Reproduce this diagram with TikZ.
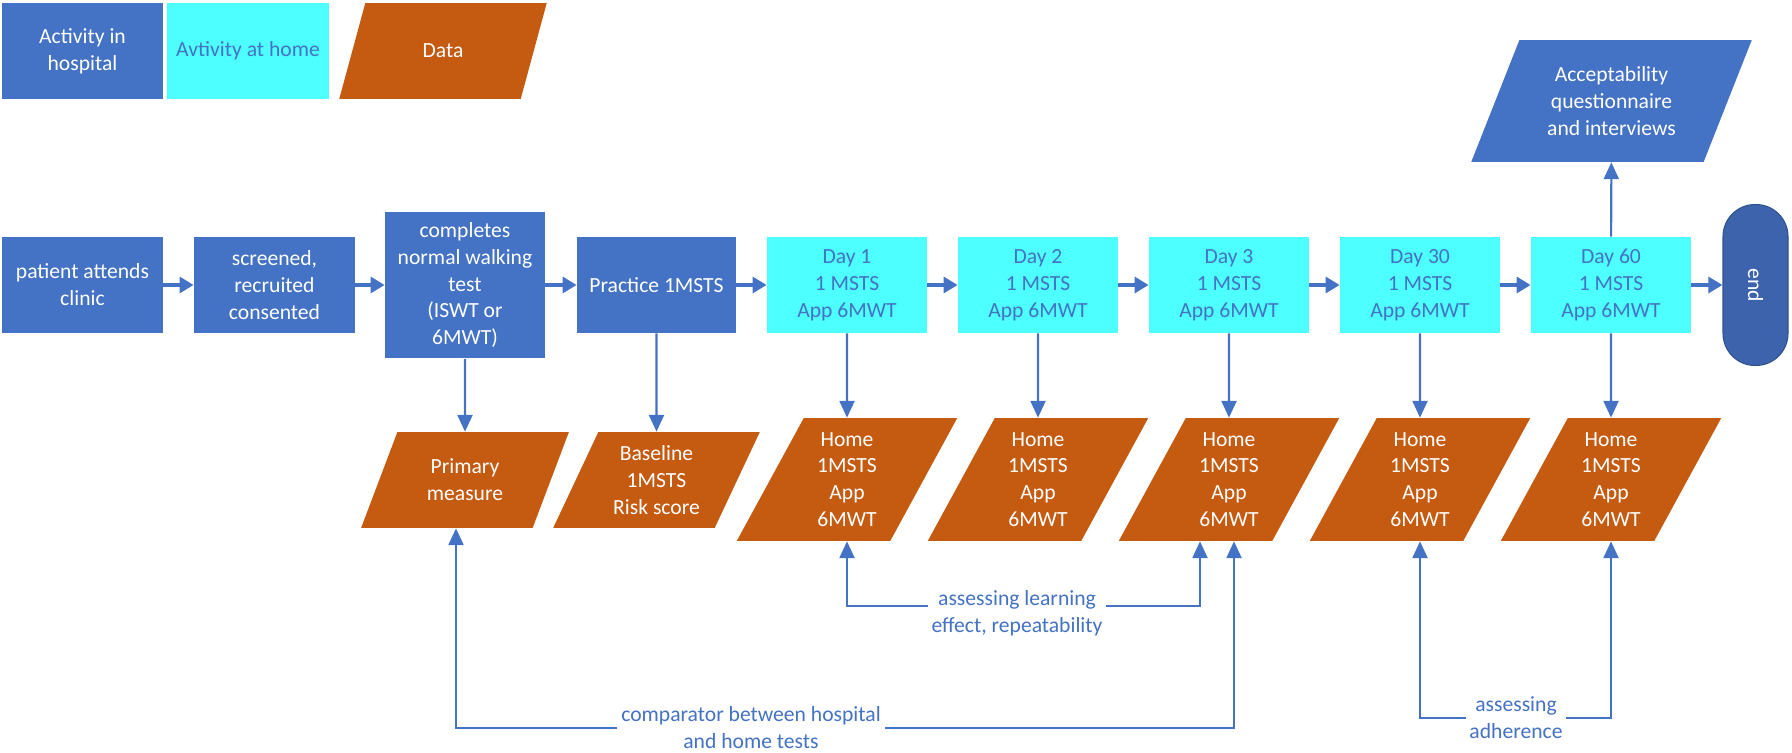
\documentclass[tikz,border=0pt]{standalone}
\usepackage{fontspec}
\setmainfont{Carlito}
\usetikzlibrary{arrows.meta,shapes.geometric}
\definecolor{hblue}{HTML}{4472C4}
\definecolor{hcyan}{HTML}{4DFFFF}
\definecolor{horange}{HTML}{C55A11}
\definecolor{hend}{HTML}{3E63AD}
\definecolor{hendb}{HTML}{2F528F}
\begin{document}
\begin{tikzpicture}[x=0.02cm,y=-0.02cm,
  every node/.style={font=\fontsize{12.3}{15.3}\selectfont, align=center, inner sep=0pt},
  hosp/.style={fill=hblue, text=white, minimum height=1.92cm},
  homebox/.style={fill=hcyan, text=hblue, minimum width=3.2cm, minimum height=1.92cm},
  datab/.style={trapezium, trapezium left angle=64, trapezium right angle=116, trapezium stretches=true, fill=horange, text=white},
  flow/.style={draw=hblue, line width=2pt, -{Triangle[width=9pt,length=8pt]}},
  down/.style={draw=hblue, line width=1.2pt, -{Triangle[width=8.5pt,length=9.5pt]}},
  lbl/.style={fill=white, text=hblue, inner xsep=2pt, inner ysep=1pt}
]
\useasboundingbox (0,0) rectangle (1792,753);
% legend
\node[hosp, minimum width=3.22cm] (l1) at (82.5,51) {Activity in\\hospital};
\node[homebox, minimum width=3.24cm] (l2) at (248,51) {Avtivity at home};
\node[datab, minimum width=4.16cm, minimum height=1.92cm] (l3) at (443,51) {Data};
% main row
\node[hosp, minimum width=3.22cm] (b1) at (82.5,285) {patient attends\\clinic};
\node[hosp, minimum width=3.22cm] (b2) at (274.5,285) {screened,\\recruited\\consented};
\node[hosp, minimum width=3.2cm, minimum height=2.94cm] (b3) at (465,285) {completes\\normal walking\\test\\(ISWT or\\6MWT)};
\node[hosp, minimum width=3.18cm] (b4) at (656.5,285) {Practice 1MSTS};
\node[homebox] (d1) at (847,285) {Day 1\\1 MSTS\\App 6MWT};
\node[homebox] (d2) at (1038,285) {Day 2\\1 MSTS\\App 6MWT};
\node[homebox] (d3) at (1229,285) {Day 3\\1 MSTS\\App 6MWT};
\node[homebox] (d4) at (1420,285) {Day 30\\1 MSTS\\App 6MWT};
\node[homebox] (d5) at (1611,285) {Day 60\\1 MSTS\\App 6MWT};
\node[fill=hend, draw=hendb, line width=0.6pt, rounded corners=0.64cm, minimum width=1.3cm, minimum height=3.22cm, text=white] (en) at (1755.5,285) {\rotatebox{-90}{end}};
\node[datab, fill=hblue, minimum width=5.62cm, minimum height=2.44cm] (aq) at (1611.5,101) {Acceptability\\questionnaire\\and interviews};
% data row
\node[datab, minimum width=4.16cm, minimum height=1.92cm] (pm) at (465,480) {Primary\\measure};
\node[datab, minimum width=4.14cm, minimum height=1.92cm] (bl) at (656.5,480) {Baseline\\1MSTS\\Risk score};
\node[datab, minimum width=4.44cm, minimum height=2.46cm] (h1) at (847,479.5) {Home\\1MSTS\\App\\6MWT};
\node[datab, minimum width=4.44cm, minimum height=2.46cm] (h2) at (1038,479.5) {Home\\1MSTS\\App\\6MWT};
\node[datab, minimum width=4.44cm, minimum height=2.46cm] (h3) at (1229,479.5) {Home\\1MSTS\\App\\6MWT};
\node[datab, minimum width=4.44cm, minimum height=2.46cm] (h4) at (1420,479.5) {Home\\1MSTS\\App\\6MWT};
\node[datab, minimum width=4.44cm, minimum height=2.46cm] (h5) at (1611,479.5) {Home\\1MSTS\\App\\6MWT};
% flow arrows
\draw[flow] (b1) -- (b2);
\draw[flow] (b2) -- (b3);
\draw[flow] (b3) -- (b4);
\draw[flow] (b4) -- (d1);
\draw[flow] (d1) -- (d2);
\draw[flow] (d2) -- (d3);
\draw[flow] (d3) -- (d4);
\draw[flow] (d4) -- (d5);
\draw[flow] (d5) -- (en);
% vertical arrows
\draw[down] (b3) -- (pm);
\draw[down] (b4) -- (bl);
\draw[down] (d1) -- (h1);
\draw[down] (d2) -- (h2);
\draw[down] (d3) -- (h3);
\draw[down] (d4) -- (h4);
\draw[down] (d5) -- (h5);
\draw[down] (d5) -- (aq);
% bottom comparisons
\node[lbl] (lrn) at (1017,613) {assessing learning\\effect, repeatability};
\draw[down] (lrn.west |- 0,606) -| (h1.south);
\draw[down] (lrn.east |- 0,606) -| (h3.south -| 1200,0);
\node[lbl] (cmp) at (751,728) {comparator between hospital\\and home tests};
\draw[down] (cmp.west) -| (pm.south -| 456,0);
\draw[down] (cmp.east) -| (h3.south -| 1234,0);
\node[lbl] (adh) at (1516,718) {assessing\\adherence};
\draw[down] (adh.west) -| (h4.south);
\draw[down] (adh.east) -| (h5.south);
\end{tikzpicture}
\end{document}
